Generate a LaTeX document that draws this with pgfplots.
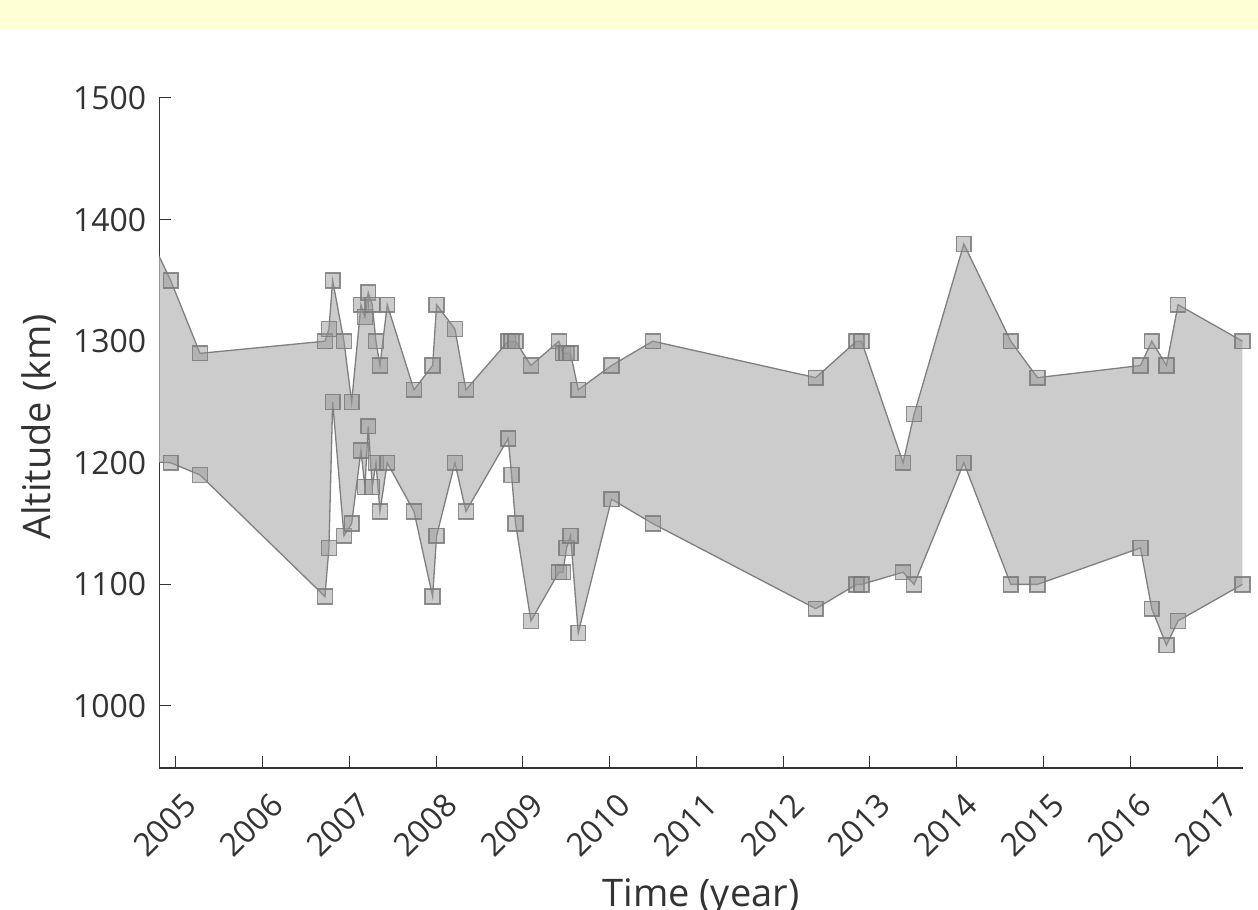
\documentclass[border=0pt]{standalone}
\usepackage{fontspec}
\setmainfont{Open Sans}
\usepackage{pgfplots}
\pgfplotsset{compat=1.18}
\usepackage{pgfplotstable}
\definecolor{band}{HTML}{FFFFD5}
\definecolor{spine}{HTML}{333333}
\definecolor{linecol}{HTML}{7F7F7F}
\definecolor{areacol}{HTML}{CCCCCC}
\definecolor{markfill}{HTML}{999999}
\definecolor{markedge}{HTML}{7A7A7A}

\pgfplotstableread{
t up lo
2004.700 1386 1201
2004.941 1350 1200
2005.279 1290 1190
2006.719 1300 1090
2006.765 1310 1130
2006.808 1350 1250
2006.938 1300 1140
2007.027 1250 1150
2007.134 1330 1210
2007.180 1320 1180
2007.218 1340 1230
2007.264 1330 1180
2007.307 1300 1200
2007.353 1280 1160
2007.437 1330 1200
2007.745 1260 1160
2007.960 1280 1090
2008.006 1330 1140
2008.217 1310 1200
2008.344 1260 1160
2008.831 1300 1220
2008.870 1300 1190
2008.916 1300 1150
2009.093 1280 1070
2009.415 1300 1110
2009.461 1290 1110
2009.504 1290 1130
2009.550 1290 1140
2009.638 1260 1060
2010.022 1280 1170
2010.498 1300 1150
2012.376 1270 1080
2012.845 1300 1100
2012.903 1300 1100
2013.382 1200 1110
2013.509 1240 1100
2014.082 1380 1200
2014.623 1300 1100
2014.931 1270 1100
2016.118 1280 1130
2016.248 1300 1080
2016.417 1280 1050
2016.551 1330 1070
2017.293 1300 1100
}\altdata

\pgfplotstableread{
t v
2004.700 1386
2004.941 1350
2005.279 1290
2006.719 1300
2006.765 1310
2006.808 1350
2006.938 1300
2007.027 1250
2007.134 1330
2007.180 1320
2007.218 1340
2007.264 1330
2007.307 1300
2007.353 1280
2007.437 1330
2007.745 1260
2007.960 1280
2008.006 1330
2008.217 1310
2008.344 1260
2008.831 1300
2008.870 1300
2008.916 1300
2009.093 1280
2009.415 1300
2009.461 1290
2009.504 1290
2009.550 1290
2009.638 1260
2010.022 1280
2010.498 1300
2012.376 1270
2012.845 1300
2012.903 1300
2013.382 1200
2013.509 1240
2014.082 1380
2014.623 1300
2014.931 1270
2016.118 1280
2016.248 1300
2016.417 1280
2016.551 1330
2017.293 1300
2017.293 1100
2016.551 1070
2016.417 1050
2016.248 1080
2016.118 1130
2014.931 1100
2014.623 1100
2014.082 1200
2013.509 1100
2013.382 1110
2012.903 1100
2012.845 1100
2012.376 1080
2010.498 1150
2010.022 1170
2009.638 1060
2009.550 1140
2009.504 1130
2009.461 1110
2009.415 1110
2009.093 1070
2008.916 1150
2008.870 1190
2008.831 1220
2008.344 1160
2008.217 1200
2008.006 1140
2007.960 1090
2007.745 1160
2007.437 1200
2007.353 1160
2007.307 1200
2007.264 1180
2007.218 1230
2007.180 1180
2007.134 1210
2007.027 1150
2006.938 1140
2006.808 1250
2006.765 1130
2006.719 1090
2005.279 1190
2004.941 1200
2004.700 1201
}\polydata

\begin{document}
\begin{tikzpicture}
\useasboundingbox (0,0) rectangle (629pt,455pt);
\fill[band] (0,440.35pt) rectangle (629pt,455pt);
\begin{axis}[
  at={(79.65pt,71pt)}, anchor=south west,
  scale only axis, width=541.7pt, height=335pt,
  xmin=2004.81, xmax=2017.296, ymin=949, ymax=1500,
  axis lines*=left,
  axis line style={-, line width=0.75pt, color=spine},
  tick align=inside, major tick length=6pt,
  tick style={line width=0.5pt, color=spine},
  xtick={2005,2006,2007,2008,2009,2010,2011,2012,2013,2014,2015,2016,2017},
  ytick={1000,1100,1200,1300,1400,1500},
  /pgf/number format/1000 sep={},
  /pgf/number format/assume math mode=true,
  tick label style={font=\fontsize{16}{19}\selectfont, text=spine},
  xticklabel style={anchor=center, xshift=-5.5pt, yshift=-28.5pt, rotate=45},
  yticklabel style={xshift=-3pt},
  xlabel={Time (year)},
  ylabel={Altitude (km)},
  every axis x label/.style={at={(axis description cs:0.5,0)}, anchor=base, yshift=-69pt, font=\fontsize{19}{22}\selectfont, text=spine},
  every axis y label/.style={at={(axis description cs:0,0.5)}, xshift=-54.5pt, yshift=3pt, rotate=90, anchor=base, font=\fontsize{19}{22}\selectfont, text=spine},
]
\addplot[fill=areacol, draw=none] table[x=t, y=v] {\polydata} -- cycle;
\addplot[linecol, line width=0.65pt, mark=none] table[x=t, y=up] {\altdata};
\addplot[only marks, mark=square*, mark size=3.7pt,
  mark options={fill=markfill, fill opacity=0.5, draw=markedge, draw opacity=0.85, line width=0.75pt},
  skip coords between index={0}{1}] table[x=t, y=up] {\altdata};
\addplot[linecol, line width=0.65pt, mark=none] table[x=t, y=lo] {\altdata};
\addplot[only marks, mark=square*, mark size=3.7pt,
  mark options={fill=markfill, fill opacity=0.5, draw=markedge, draw opacity=0.85, line width=0.75pt},
  skip coords between index={0}{1}] table[x=t, y=lo] {\altdata};
\end{axis}
\end{tikzpicture}
\end{document}
